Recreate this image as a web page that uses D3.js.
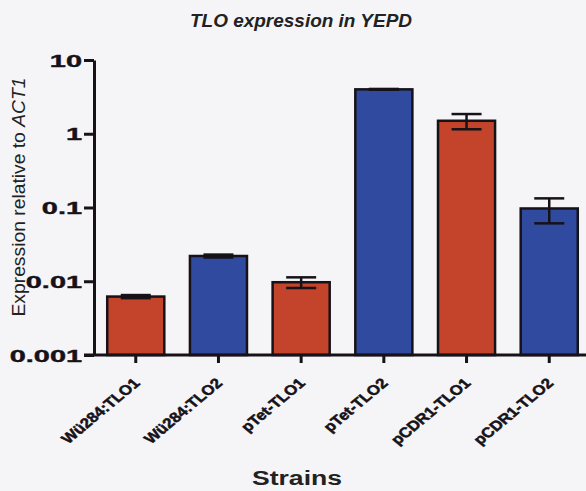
<!DOCTYPE html>
<html>
<head>
<meta charset="utf-8">
<script src="https://cdn.jsdelivr.net/npm/d3@7"></script>
<style>
  html, body { margin: 0; padding: 0; background: #f5f5f7; }
  svg { display: block; }
  text { font-family: "Liberation Sans", Arial, sans-serif; }
</style>
</head>
<body>
<script>
const strains = ["Wü284:TLO1", "Wü284:TLO2", "pTet-TLO1", "pTet-TLO2", "pCDR1-TLO1", "pCDR1-TLO2"];
const values = [0.0062, 0.022, 0.0097, 4.0, 1.5, 0.097];
const errors = [0.0003, 0.001, 0.0016, 0.05, 0.35, 0.036];
const barColors = ["#c4432b", "#2f4a9e", "#c4432b", "#2f4a9e", "#c4432b", "#2f4a9e"];
const yTicks = [0.001, 0.01, 0.1, 1, 10];
const yTickLabels = ["0.001", "0.01", "0.1", "1", "10"];

const W = 586, H = 491;
const FONT = "'Liberation Sans', Arial, sans-serif";
const INK = "#161218";
const svg = d3.select("body").append("svg").attr("width", W).attr("height", H);
svg.append("rect").attr("width", W).attr("height", H).attr("fill", "#f5f5f7");

const x0 = 94, x1 = 591, yTop = 60, yBot = 355;
const x = d3.scaleBand().domain(strains).range([x0, x1]).paddingInner(0.31).paddingOuter(0.16);
const y = d3.scaleLog().domain([0.001, 10]).range([yBot, yTop]);

// bars
svg.selectAll("rect.bar").data(strains).enter().append("rect")
  .attr("class", "bar")
  .attr("x", d => x(d))
  .attr("width", x.bandwidth())
  .attr("y", (d, i) => y(values[i]))
  .attr("height", (d, i) => yBot - y(values[i]))
  .attr("fill", (d, i) => barColors[i])
  .attr("stroke", INK)
  .attr("stroke-width", 2.5);

// error bars
const capW = 30;
const eg = svg.append("g").attr("stroke", INK).attr("stroke-width", 2.5);
strains.forEach((s, i) => {
  const cx = x(s) + x.bandwidth() / 2;
  const hi = y(values[i] + errors[i]);
  const lo = y(values[i] - errors[i]);
  eg.append("line").attr("x1", cx).attr("x2", cx).attr("y1", hi).attr("y2", lo);
  eg.append("line").attr("x1", cx - capW / 2).attr("x2", cx + capW / 2).attr("y1", hi).attr("y2", hi);
  eg.append("line").attr("x1", cx - capW / 2).attr("x2", cx + capW / 2).attr("y1", lo).attr("y2", lo);
});

// y axis
const yAxis = d3.axisLeft(y).tickValues(yTicks).tickFormat((d, i) => yTickLabels[i]).tickSize(10).tickSizeOuter(0);
const gy = svg.append("g").attr("transform", `translate(${x0},0)`).call(yAxis);
gy.select(".domain").attr("stroke", INK).attr("stroke-width", 3);
gy.selectAll(".tick line").attr("stroke", INK).attr("stroke-width", 3);
gy.selectAll(".tick text").attr("fill", INK).style("font-size", "17px").style("font-weight", "bold")
  .style("font-family", FONT)
  .attr("stroke", INK).attr("stroke-width", 0.4)
  .attr("x", 0).attr("dy", "0.36em")
  .attr("transform", "translate(-12,0) scale(1.7,1)");

// x axis
const xAxis = d3.axisBottom(x).tickSize(8).tickSizeOuter(0);
const gx = svg.append("g").attr("transform", `translate(0,${yBot})`).call(xAxis);
gx.select(".domain").attr("stroke", INK).attr("stroke-width", 3).attr("d", `M${x0 - 10},0H${W}`);
gx.selectAll(".tick line").attr("stroke", INK).attr("stroke-width", 3);
gx.selectAll(".tick text").attr("fill", INK).style("font-size", "14px").style("font-weight", "bold")
  .style("font-family", FONT)
  .attr("stroke", INK).attr("stroke-width", 0.5)
  .attr("text-anchor", "end")
  .attr("dy", "0")
  .attr("x", 0).attr("y", 0)
  .attr("transform", "translate(5,29) scale(1.2,1) rotate(-45)");

// title
svg.append("text").attr("x", 301).attr("y", 27).attr("text-anchor", "middle")
  .attr("textLength", 222).attr("lengthAdjust", "spacingAndGlyphs")
  .style("font-size", "18px").style("font-weight", "bold").style("font-style", "italic")
  .attr("fill", "#222").text("TLO expression in YEPD");

// y label
const yl = svg.append("text").attr("transform", "translate(25,197) rotate(-90)").attr("text-anchor", "middle")
  .attr("textLength", 239).attr("lengthAdjust", "spacingAndGlyphs")
  .style("font-size", "18px").attr("fill", "#222");
yl.append("tspan").text("Expression relative to ");
yl.append("tspan").style("font-style", "italic").text("ACT1");

// x label
svg.append("text").attr("x", 297).attr("y", 485).attr("text-anchor", "middle")
  .attr("textLength", 90).attr("lengthAdjust", "spacingAndGlyphs")
  .style("font-size", "20px").style("font-weight", "bold").attr("fill", "#222").text("Strains");
</script>
</body>
</html>
